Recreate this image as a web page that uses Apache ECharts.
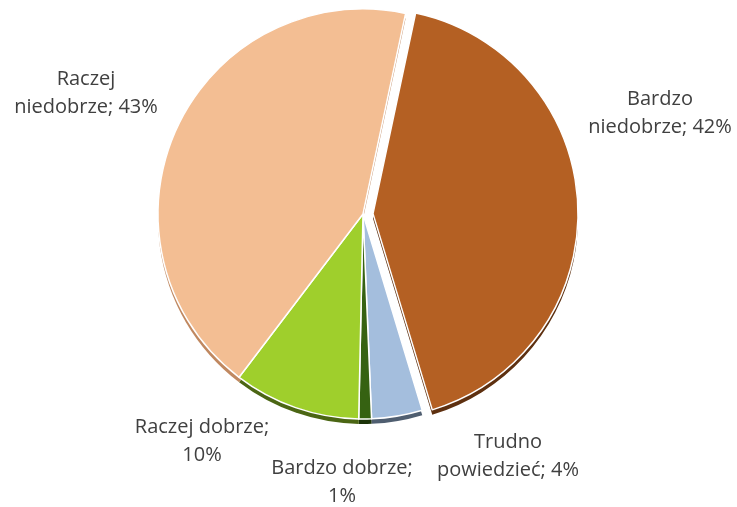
<!DOCTYPE html>
<html><head><meta charset="utf-8">
<script src="https://cdn.jsdelivr.net/npm/echarts@6/dist/echarts.min.js"></script>
<style>html,body{margin:0;padding:0;background:#fff}#c{width:737px;height:507px}</style>
</head><body><div id="c"></div>
<script>
const categories = ['Bardzo niedobrze', 'Trudno powiedzieć', 'Bardzo dobrze', 'Raczej dobrze', 'Raczej niedobrze'];
const values = [42, 4, 1, 10, 43];
const labelTexts = ['Bardzo\nniedobrze; 42%', 'Trudno\npowiedzieć; 4%', 'Bardzo dobrze;\n1%', 'Raczej dobrze;\n10%', 'Raczej\nniedobrze; 43%'];
const colors = ['#B46023', '#A4BEDD', '#366212', '#9FCF2C', '#F3BE93'];
const sideColors = ['#5E3010', '#4F5E70', '#1C3308', '#4B6614', '#C08860'];

const labelPos = [[660, 113], [508, 456], [342, 482], [202, 441], [86, 93]];

const chart = echarts.init(document.getElementById('c'));
const center = [363, 214];
const explodeShift = [10, -0.4];
const r = 205;
const startAngle = 78;

// exploded slice (index 0) drawn by its own series, others by the main series
function buildData(isExploded, palette, withLabels) {
  const out = [];
  categories.forEach((c, i) => {
    const visible = isExploded ? i === 0 : i !== 0;
    out.push({
      name: c, value: values[i],
      itemStyle: visible ? { color: palette[i] } : { color: 'rgba(0,0,0,0)', borderWidth: 0 },
      label: { show: withLabels && visible }
    });
  });
  return out;
}

const labelCfg = {
  show: true, position: 'outside', overflow: 'none', width: 300,
  fontFamily: 'Open Sans', fontSize: 20, color: '#404040',
  lineHeight: 28, align: 'center',
  formatter: p => labelTexts[p.dataIndex]
};
const layoutFn = p => ({ x: labelPos[p.dataIndex][0], y: labelPos[p.dataIndex][1], align: 'center', verticalAlign: 'middle' });

function pie(c, z, palette, exploded, withLabels) {
  return {
    type: 'pie', z: z, silent: true,
    center: c, radius: r,
    startAngle: startAngle, clockwise: true,
    itemStyle: { borderColor: '#ffffff', borderWidth: withLabels ? 1.5 : 0 },
    labelLine: { show: false },
    label: withLabels ? labelCfg : { show: false },
    labelLayout: withLabels ? layoutFn : undefined,
    data: buildData(exploded, palette, withLabels)
  };
}

const ex = [center[0] + explodeShift[0], center[1] + explodeShift[1]];
chart.setOption({
  animation: false,
  series: [
    pie([center[0], center[1] + 5], 1, sideColors, false, false),
    pie([ex[0], ex[1] + 5], 1, sideColors, true, false),
    pie(center, 2, colors, false, true),
    pie(ex, 2, colors, true, true)
  ]
});
</script></body></html>
